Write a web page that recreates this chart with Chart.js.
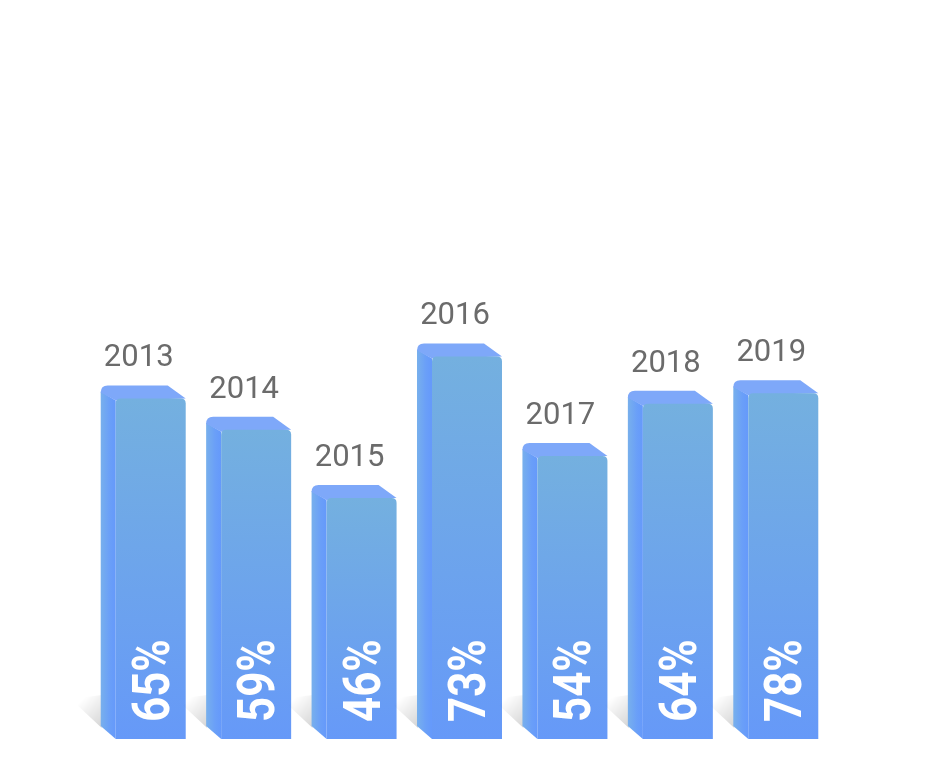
<!DOCTYPE html>
<html>
<head>
<meta charset="utf-8">
<style>
  html, body { margin: 0; padding: 0; background: #ffffff; }
  #wrap { width: 928px; height: 774px; position: relative; }
</style>
<script src="https://cdn.jsdelivr.net/npm/chart.js@4"></script>
</head>
<body>
<div id="wrap"><canvas id="c" width="928" height="774"></canvas></div>
<script>
// ---- data ----
const years = ['2013', '2014', '2015', '2016', '2017', '2018', '2019'];
const barHeights = [65, 59, 46, 73, 54, 64, 66];      // bar heights as drawn
const percentLabels = [65, 59, 46, 73, 54, 64, 78];   // values printed in the bars

const DX = 15, DY = 13; // 3D depth offset

const bar3d = {
  id: 'bar3d',
  afterDatasetsDraw(chart) {
    const ctx = chart.ctx;
    const meta = chart.getDatasetMeta(0);
    meta.data.forEach((el, i) => {
      const { x, y, base, width } = el.getProps(['x', 'y', 'base', 'width'], true);
      const L = x - width / 2, R = x + width / 2, T = y, B = base;
      ctx.save();

      // shadow (lower-left)
      const sx = L - DX, sb = B - DY + 1;
      const sg = ctx.createLinearGradient(sx, sb, sx - 22, sb - 24);
      sg.addColorStop(0, 'rgba(0,0,0,0.16)');
      sg.addColorStop(1, 'rgba(0,0,0,0)');
      ctx.fillStyle = sg;
      ctx.beginPath();
      ctx.moveTo(sx + 1, sb - 32);
      ctx.lineTo(sx + 1, sb + 1);
      ctx.lineTo(sx - 30, sb - 28);
      ctx.closePath();
      ctx.fill();

      // side face
      const sideG = ctx.createLinearGradient(L - DX, 0, L, 0);
      sideG.addColorStop(0, '#78b0ec');
      sideG.addColorStop(0.6, '#6a9ff8');
      sideG.addColorStop(1, '#6599fb');
      ctx.fillStyle = sideG;
      ctx.beginPath();
      ctx.moveTo(L, T + 2);
      ctx.lineTo(L - DX, T - DY + 6);
      ctx.lineTo(L - DX, B - DY);
      ctx.lineTo(L, B);
      ctx.closePath();
      ctx.fill();

      // top face
      ctx.fillStyle = '#7ea8f9';
      ctx.beginPath();
      ctx.moveTo(L, T + 2);
      ctx.lineTo(L - DX, T - DY + 7);
      ctx.quadraticCurveTo(L - DX, T - DY, L - DX + 7, T - DY);
      ctx.lineTo(R - DX - 3, T - DY);
      ctx.lineTo(R, T);
      ctx.closePath();
      ctx.fill();

      // front face
      const fg = ctx.createLinearGradient(0, T, 0, B);
      fg.addColorStop(0, '#74b0df');
      fg.addColorStop(1, '#6699f8');
      ctx.fillStyle = fg;
      const r = 5;
      ctx.beginPath();
      ctx.moveTo(L, B);
      ctx.lineTo(L, T + r);
      ctx.quadraticCurveTo(L, T, L + r, T);
      ctx.lineTo(R - r, T);
      ctx.quadraticCurveTo(R, T, R, T + r);
      ctx.lineTo(R, B);
      ctx.closePath();
      ctx.fill();

      // year label
      ctx.fillStyle = '#6b6b6b';
      ctx.font = '31px Roboto';
      ctx.textAlign = 'center';
      ctx.textBaseline = 'alphabetic';
      ctx.fillText(years[i], x - 12, T - 32);

      // percent label (rotated)
      ctx.translate(x, B - 17);
      ctx.rotate(-Math.PI / 2);
      ctx.scale(0.86, 1);
      ctx.fillStyle = '#ffffff';
      ctx.font = 'bold 51px Roboto';
      ctx.textAlign = 'left';
      ctx.textBaseline = 'alphabetic';
      ctx.fillText(percentLabels[i] + '%', 0, 18);
      ctx.restore();
    });
  }
};

new Chart(document.getElementById('c'), {
  type: 'bar',
  data: {
    labels: years,
    datasets: [{
      data: barHeights,
      backgroundColor: 'rgba(0,0,0,0)',
      borderWidth: 0,
      barPercentage: 0.664,
      categoryPercentage: 1
    }]
  },
  options: {
    responsive: false,
    animation: false,
    layout: { padding: { left: 98, right: 92, top: 215, bottom: 35 } },
    plugins: { legend: { display: false }, tooltip: { enabled: false } },
    scales: {
      x: { display: false, offset: true },
      y: { display: false, min: 0, max: 100 }
    }
  },
  plugins: [bar3d]
});
</script>
</body>
</html>
